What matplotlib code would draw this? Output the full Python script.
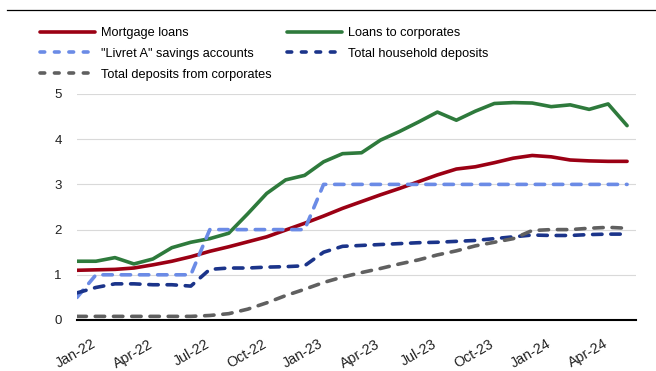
import numpy as np
import matplotlib
matplotlib.use('Agg')
import matplotlib.pyplot as plt
import matplotlib.transforms as mtransforms
from matplotlib.lines import Line2D

plt.rcParams['font.family'] = ['Liberation Sans', 'DejaVu Sans']

# monthly series, Jan-22 .. Jun-24 (%)
months = ['Jan-22', 'Feb-22', 'Mar-22', 'Apr-22', 'May-22', 'Jun-22', 'Jul-22', 'Aug-22', 'Sep-22', 'Oct-22',
          'Nov-22', 'Dec-22', 'Jan-23', 'Feb-23', 'Mar-23', 'Apr-23', 'May-23', 'Jun-23', 'Jul-23', 'Aug-23',
          'Sep-23', 'Oct-23', 'Nov-23', 'Dec-23', 'Jan-24', 'Feb-24', 'Mar-24', 'Apr-24', 'May-24', 'Jun-24']

mortgage = [1.10, 1.11, 1.12, 1.15, 1.22, 1.30, 1.40, 1.52, 1.62, 1.73,
            1.84, 1.99, 2.14, 2.30, 2.47, 2.62, 2.77, 2.91, 3.06, 3.21,
            3.34, 3.39, 3.48, 3.58, 3.64, 3.61, 3.54, 3.52, 3.51, 3.51]
loans_corp = [1.30, 1.30, 1.38, 1.24, 1.35, 1.60, 1.72, 1.80, 1.92, 2.35,
              2.80, 3.10, 3.20, 3.50, 3.68, 3.70, 3.98, 4.17, 4.38, 4.60,
              4.42, 4.62, 4.79, 4.81, 4.80, 4.72, 4.76, 4.66, 4.78, 4.30]
livret_a = [0.50, 1.00, 1.00, 1.00, 1.00, 1.00, 1.00, 2.00, 2.00, 2.00,
            2.00, 2.00, 2.00, 3.00, 3.00, 3.00, 3.00, 3.00, 3.00, 3.00,
            3.00, 3.00, 3.00, 3.00, 3.00, 3.00, 3.00, 3.00, 3.00, 3.00]
household_dep = [0.60, 0.72, 0.80, 0.80, 0.78, 0.78, 0.75, 1.12, 1.15, 1.15,
                 1.17, 1.18, 1.20, 1.50, 1.63, 1.65, 1.67, 1.69, 1.71, 1.72,
                 1.74, 1.76, 1.80, 1.84, 1.88, 1.87, 1.87, 1.89, 1.90, 1.90]
corp_dep = [0.08, 0.08, 0.08, 0.08, 0.08, 0.08, 0.08, 0.10, 0.14, 0.24,
            0.38, 0.54, 0.68, 0.83, 0.95, 1.05, 1.14, 1.24, 1.33, 1.44,
            1.53, 1.64, 1.72, 1.80, 1.98, 2.00, 2.00, 2.03, 2.05, 2.03]

labels = ['Mortgage loans', 'Loans to corporates', '"Livret A" savings accounts',
          'Total household deposits', 'Total deposits from corporates']
colors = ['#9b0014', '#2e7a3c', '#6b8be6', '#1b348a', '#606060']
series = [mortgage, loans_corp, livret_a, household_dep, corp_dep]
dashed = [False, False, True, True, True]

x = np.arange(len(months))

fig = plt.figure(figsize=(6.56, 3.71), dpi=100)
ax = fig.add_axes([77 / 656, 51 / 371, 559 / 656, 226 / 371])

lw = 2.6
handles = []
for vals, col, lab, dsh in zip(series, colors, labels, dashed):
    if dsh:
        ax.plot(x, vals, color=col, lw=lw, ls=(0, (2.6, 2.45)), dash_capstyle='round')
        handles.append(Line2D([], [], color=col, lw=lw, ls=(0, (1.3, 2.7)), dash_capstyle='round'))
    else:
        ax.plot(x, vals, color=col, lw=lw, solid_capstyle='round', solid_joinstyle='round')
        handles.append(Line2D([], [], color=col, lw=lw, solid_capstyle='round'))

ax.set_xlim(0, 29.47)
ax.set_ylim(0, 5)
ax.set_yticks(range(6))
ax.grid(axis='y', color='#d9d9d9', lw=0.8)
ax.set_axisbelow(True)
for side in ['top', 'right', 'left']:
    ax.spines[side].set_visible(False)
ax.spines['bottom'].set_color('black')
ax.spines['bottom'].set_linewidth(1.5)
ax.tick_params(axis='both', length=0, labelcolor='#222222')
ax.tick_params(axis='y', pad=11, labelsize=9.5)

ticks = x[::3]
ax.set_xticks(ticks)
ax.set_xticklabels([months[i] for i in ticks], rotation=30, ha='right', va='top',
                   rotation_mode='anchor', fontsize=10.3)
offset = mtransforms.ScaledTranslation(0.14, -0.12, fig.dpi_scale_trans)
for lab in ax.get_xticklabels():
    lab.set_transform(lab.get_transform() + offset)

# two legend columns: first column holds three entries
order = [0, 2, 4, 1, 3]
fig.legend([handles[i] for i in order], [labels[i] for i in order], loc='upper left',
           bbox_to_anchor=(40 / 656, 1 - 27 / 371), ncol=2, frameon=False, fontsize=9.2,
           borderpad=0, borderaxespad=0, handlelength=4.3, handletextpad=0.45,
           columnspacing=1.25, labelspacing=0.7)

# rule across the top of the figure
fig.add_artist(Line2D([7 / 656, 1], [1 - 10 / 371, 1 - 10 / 371], transform=fig.transFigure,
                      color='black', lw=0.9))

fig.savefig('out.png', dpi=100)
